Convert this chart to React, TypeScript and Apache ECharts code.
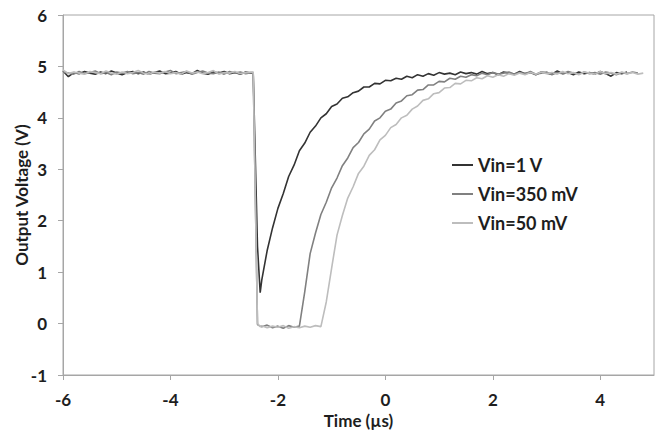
import React, { useEffect, useRef } from "react";
import * as echarts from "echarts";

// Time axis (µs), shared by all three traces
const time: number[] = [
  -6.0, -5.9, -5.8, -5.7, -5.6, -5.5, -5.4, -5.3, -5.2, -5.1,
  -5.0, -4.9, -4.8, -4.7, -4.6, -4.5, -4.4, -4.3, -4.2, -4.1,
  -4.0, -3.9, -3.8, -3.7, -3.6, -3.5, -3.4, -3.3, -3.2, -3.1,
  -3.0, -2.9, -2.8, -2.7, -2.6, -2.5,
  -2.46, -2.38, -2.33,
  -2.3, -2.2, -2.1, -2.0, -1.9, -1.8, -1.7, -1.6, -1.5, -1.4,
  -1.3, -1.2, -1.1, -1.0, -0.9, -0.8, -0.7, -0.6, -0.5, -0.4,
  -0.3, -0.2, -0.1,
  0.0, 0.1, 0.2, 0.3, 0.4, 0.5, 0.6, 0.7, 0.8, 0.9,
  1.0, 1.1, 1.2, 1.3, 1.4, 1.5, 1.6, 1.7, 1.8, 1.9,
  2.0, 2.1, 2.2, 2.3, 2.4, 2.5, 2.6, 2.7, 2.8, 2.9,
  3.0, 3.1, 3.2, 3.3, 3.4, 3.5, 3.6, 3.7, 3.8, 3.9,
  4.0, 4.1, 4.2, 4.3, 4.4, 4.5, 4.6, 4.7, 4.8,
];

const vin1V: (number | null)[] = [
  4.91, 4.80, 4.88, 4.86, 4.90, 4.87, 4.85, 4.89, 4.86, 4.91,
  4.87, 4.84, 4.88, 4.90, 4.86, 4.89, 4.85, 4.88, 4.91, 4.86,
  4.87, 4.90, 4.85, 4.88, 4.86, 4.92, 4.87, 4.85, 4.89, 4.87,
  4.90, 4.86, 4.88, 4.85, 4.89, 4.87,
  4.88, 1.50, 0.60,
  0.85, 1.42, 1.86, 2.24, 2.53, 2.86, 3.08, 3.36, 3.51, 3.72,
  3.84, 4.00, 4.08, 4.22, 4.27, 4.38, 4.41, 4.49, 4.52, 4.60,
  4.60, 4.67, 4.66,
  4.73, 4.72, 4.77, 4.75, 4.81, 4.78, 4.84, 4.81, 4.86, 4.83,
  4.88, 4.85, 4.87, 4.84, 4.89, 4.86, 4.88, 4.85, 4.90, 4.86,
  4.88, 4.84, 4.89, 4.87, 4.85, 4.90, 4.86, 4.88, 4.84, 4.89,
  4.87, 4.85, 4.91, 4.86, 4.88, 4.84, 4.89, 4.86, 4.88, 4.85,
  4.90, 4.86, 4.81, 4.88, 4.86, 4.89, null, null, null,
];

const vin350mV: (number | null)[] = [
  4.89, 4.87, 4.85, 4.90, 4.86, 4.88, 4.91, 4.86, 4.88, 4.84,
  4.89, 4.87, 4.90, 4.86, 4.88, 4.85, 4.90, 4.87, 4.86, 4.89,
  4.92, 4.86, 4.88, 4.90, 4.85, 4.88, 4.91, 4.87, 4.86, 4.89,
  4.85, 4.90, 4.87, 4.89, 4.86, 4.88,
  4.87, -0.02, -0.05,
  -0.06, -0.03, -0.08, -0.05, -0.09, -0.04, -0.07, -0.05, 0.62, 1.36,
  1.76, 2.12, 2.36, 2.64, 2.83, 3.07, 3.22, 3.42, 3.52, 3.69,
  3.78, 3.94, 4.00,
  4.13, 4.17, 4.29, 4.33, 4.43, 4.45, 4.54, 4.55, 4.64, 4.64,
  4.71, 4.70, 4.77, 4.75, 4.81, 4.79, 4.84, 4.82, 4.87, 4.84,
  4.88, 4.85, 4.87, 4.89, 4.85, 4.88, 4.86, 4.90, 4.85, 4.87,
  4.89, 4.84, 4.88, 4.86, 4.90, 4.87, 4.85, 4.89, 4.86, 4.88,
  4.85, 4.89, 4.87, 4.84, 4.88, 4.86, 4.89, 4.87, null,
];

const vin50mV: (number | null)[] = [
  4.93, 4.86, 4.89, 4.87, 4.85, 4.90, 4.88, 4.86, 4.91, 4.87,
  4.85, 4.89, 4.86, 4.88, 4.92, 4.87, 4.85, 4.89, 4.87, 4.90,
  4.86, 4.88, 4.85, 4.91, 4.87, 4.89, 4.86, 4.88, 4.92, 4.85,
  4.88, 4.87, 4.90, 4.86, 4.88, 4.89,
  4.89, 0.00, -0.06,
  -0.04, -0.08, -0.05, -0.07, -0.04, -0.09, -0.06, -0.08, -0.05, -0.07,
  -0.04, -0.06, 0.42, 1.08, 1.72, 2.10, 2.44, 2.66, 2.92, 3.06,
  3.27, 3.38, 3.57,
  3.66, 3.81, 3.87, 4.00, 4.05, 4.17, 4.23, 4.34, 4.37, 4.47,
  4.49, 4.58, 4.59, 4.67, 4.66, 4.73, 4.72, 4.78, 4.76, 4.82,
  4.79, 4.84, 4.81, 4.86, 4.83, 4.87, 4.84, 4.88, 4.85, 4.89,
  4.86, 4.88, 4.85, 4.90, 4.86, 4.88, 4.84, 4.89, 4.87, 4.85,
  4.90, 4.86, 4.88, 4.85, 4.89, 4.86, 4.88, 4.85, 4.87,
];

const seriesNames = ["Vin=1 V", "Vin=350 mV", "Vin=50 mV"];
const seriesValues = [vin1V, vin350mV, vin50mV];
const seriesColors = ["#333333", "#808080", "#bdbdbd"];

const FONT = "Lato";
const TEXT = "#1e1e1e";
const AXIS = "#a6a6a6";

function toPairs(values: (number | null)[]) {
  const out: [number, number][] = [];
  time.forEach((t, i) => {
    const v = values[i];
    if (v !== null && v !== undefined) out.push([t, v]);
  });
  return out;
}

export default function App() {
  const ref = useRef<HTMLDivElement>(null);
  useEffect(() => {
    if (!ref.current) return;
    const chart = echarts.init(ref.current, undefined, { renderer: "svg" });
    chart.setOption({
      animation: false,
      backgroundColor: "#ffffff",
      textStyle: { fontFamily: FONT },
      grid: {
        left: 63,
        right: 4,
        top: 15,
        bottom: 67,
        show: true,
        borderColor: AXIS,
        borderWidth: 1,
        outerBoundsMode: "none",
      },
      legend: {
        orient: "vertical",
        left: 447,
        top: 151,
        icon: "rect",
        itemWidth: 21,
        itemHeight: 2,
        itemGap: 11,
        textStyle: {
          fontFamily: FONT,
          fontWeight: "bold",
          fontSize: 18,
          lineHeight: 18,
          color: TEXT,
        },
        data: seriesNames,
      },
      xAxis: {
        type: "value",
        min: -6,
        max: 5,
        interval: 2,
        name: "Time (µs)",
        nameLocation: "middle",
        nameGap: 37,
        nameMoveOverlap: false,
        nameTextStyle: { fontFamily: FONT, fontWeight: "bold", fontSize: 17, color: TEXT },
        splitLine: { show: false },
        axisLine: { show: true, onZero: false, lineStyle: { color: AXIS, width: 1 } },
        axisTick: { show: true, inside: false, length: 5, lineStyle: { color: AXIS } },
        axisLabel: {
          showMaxLabel: false,
          margin: 16,
          fontFamily: FONT,
          fontWeight: "bold",
          fontSize: 17,
          color: TEXT,
        },
      },
      yAxis: {
        type: "value",
        min: -1,
        max: 6,
        interval: 1,
        name: "Output Voltage (V)",
        nameLocation: "middle",
        nameGap: 33,
        nameMoveOverlap: false,
        nameTextStyle: { fontFamily: FONT, fontWeight: "bold", fontSize: 17, color: TEXT },
        splitLine: { show: false },
        axisLine: { show: true, onZero: false, lineStyle: { color: AXIS, width: 1 } },
        axisTick: { show: true, inside: false, length: 5, lineStyle: { color: AXIS } },
        axisLabel: {
          margin: 16,
          fontFamily: FONT,
          fontWeight: "bold",
          fontSize: 17,
          color: TEXT,
        },
      },
      series: seriesNames.map((name, i) => ({
        name,
        type: "line",
        data: toPairs(seriesValues[i]),
        symbol: "none",
        showSymbol: false,
        color: seriesColors[i],
        lineStyle: { color: seriesColors[i], width: 1.6 },
        z: 2 + i,
      })),
    });
    return () => chart.dispose();
  }, []);
  return (
    <div
      ref={ref}
      style={{ position: "fixed", left: 0, top: 0, width: 658, height: 442 }}
    />
  );
}
